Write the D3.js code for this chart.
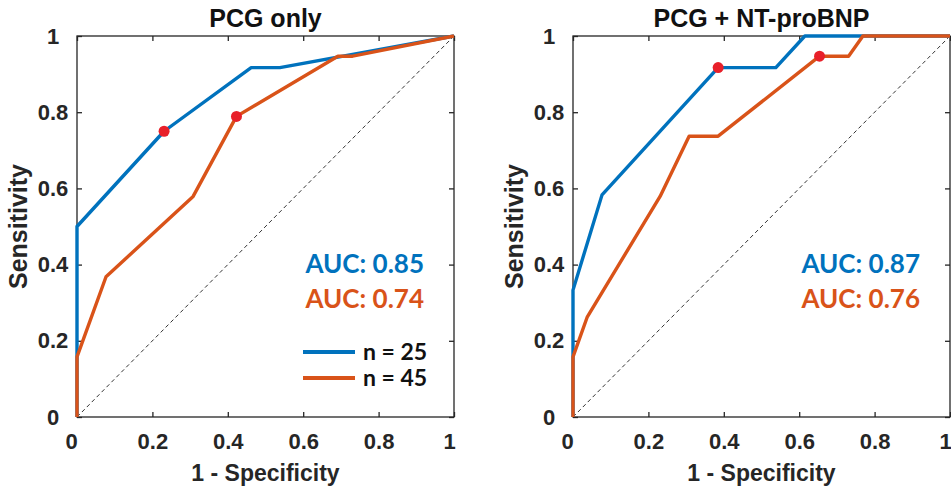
<!DOCTYPE html>
<html>
<head>
<meta charset="utf-8">
<script src="https://cdn.jsdelivr.net/npm/d3@7"></script>
<style>
  body { margin: 0; background: #fff; }
  svg { display: block; }
</style>
</head>
<body>
<div id="chart"></div>
<script>
// ROC points: [1 - specificity, sensitivity]
const pcgOnly25 = [[0, 0], [0, 0.5], [0.231, 0.75], [0.462, 0.917], [0.538, 0.917], [1, 1]];
const pcgOnly45 = [[0, 0], [0, 0.158], [0.077, 0.368], [0.308, 0.579], [0.423, 0.789],
                   [0.692, 0.947], [0.731, 0.947], [1, 1]];
const pcgBnp25 = [[0, 0], [0, 0.333], [0.077, 0.583], [0.385, 0.917], [0.538, 0.917],
                  [0.615, 1], [1, 1]];
const pcgBnp45 = [[0, 0], [0, 0.158], [0.038, 0.263], [0.231, 0.579], [0.308, 0.737],
                  [0.385, 0.737], [0.654, 0.947], [0.731, 0.947], [0.769, 1], [1, 1]];

// operating points (red dots)
const pcgOnlyCut = [[0.231, 0.75], [0.423, 0.789]];
const pcgBnpCut = [[0.385, 0.917], [0.654, 0.947]];

const panelTitles = ["PCG only", "PCG + NT-proBNP"];
const aucLabels = [["AUC: 0.85", "AUC: 0.74"], ["AUC: 0.87", "AUC: 0.76"]];
const legendLabels = ["n = 25", "n = 45"];
const tickValues = [0, 0.2, 0.4, 0.6, 0.8, 1];

const blue = "#0072BD";
const orange = "#D95319";
const red = "#E8202A";
const axisColor = "#262626";
const tickFont = "'Liberation Sans', Arial, sans-serif";
const aucFont = "Lato, 'Open Sans', sans-serif";

const svg = d3.select("#chart")
    .append("svg")
    .attr("width", 951)
    .attr("height", 491);

const tickFmt = d => (d === 0 || d === 1) ? d3.format("d")(d) : d3.format(".1f")(d);

const drawPanel = (left, curves, cuts, title, aucs, showLegend) => {
    const width = 377;
    const height = 381;
    const top = 36;

    const g = svg.append("g").attr("transform", `translate(${left},${top})`);

    const x = d3.scaleLinear().domain([0, 1]).range([0, width]);
    const y = d3.scaleLinear().domain([0, 1]).range([height, 0]);

    // chance line
    g.append("line")
        .attr("x1", x(0)).attr("y1", y(0))
        .attr("x2", x(1)).attr("y2", y(1))
        .attr("stroke", "#333")
        .attr("stroke-width", 1)
        .attr("stroke-dasharray", "4,3");

    // box with inward ticks on all sides
    g.append("rect")
        .attr("width", width).attr("height", height)
        .attr("fill", "none")
        .attr("stroke", axisColor)
        .attr("stroke-width", 1.3);

    const tickLen = 5;
    const xAxis = g.append("g")
        .attr("transform", `translate(0,${height})`)
        .call(d3.axisBottom(x).tickValues(tickValues).tickSize(-tickLen).tickPadding(16).tickFormat(tickFmt));
    g.append("g")
        .call(d3.axisTop(x).tickValues(tickValues).tickSize(-tickLen).tickFormat(""));
    const yAxis = g.append("g")
        .call(d3.axisLeft(y).tickValues(tickValues).tickSize(-tickLen).tickFormat(tickFmt));
    g.append("g")
        .attr("transform", `translate(${width},0)`)
        .call(d3.axisRight(y).tickValues(tickValues).tickSize(-tickLen).tickFormat(""));

    g.selectAll(".domain").remove();
    g.selectAll(".tick line").attr("stroke", axisColor).attr("stroke-width", 1.3);
    g.selectAll(".tick text")
        .attr("fill", "#262626")
        .style("font-family", tickFont)
        .style("font-size", "22px")
        .style("font-weight", "bold");

    // end labels sit a little inward, as in the figure
    xAxis.selectAll(".tick text")
        .attr("dx", d => d === 0 ? -6 : d === 1 ? -5 : 0);
    yAxis.selectAll(".tick text")
        .attr("text-anchor", "middle")
        .attr("x", -24);

    // curves
    const line = d3.line().x(d => x(d[0])).y(d => y(d[1]));
    const colors = [blue, orange];
    curves.forEach((c, i) => {
        g.append("path")
            .datum(c)
            .attr("d", line)
            .attr("fill", "none")
            .attr("stroke", colors[i])
            .attr("stroke-width", 3.4)
            .attr("stroke-linejoin", "round");
    });

    g.selectAll(".cut")
        .data(cuts)
        .join("circle")
        .attr("class", "cut")
        .attr("cx", d => x(d[0]))
        .attr("cy", d => y(d[1]))
        .attr("r", 5.5)
        .attr("fill", red);

    // title
    g.append("text")
        .attr("x", width / 2)
        .attr("y", -9)
        .attr("text-anchor", "middle")
        .style("font-family", tickFont)
        .style("font-size", "25px")
        .style("font-weight", "bold")
        .attr("fill", "#111")
        .text(title);

    // axis labels
    g.append("text")
        .attr("x", width / 2)
        .attr("y", height + 64)
        .attr("text-anchor", "middle")
        .style("font-family", tickFont)
        .style("font-size", "23px")
        .style("font-weight", "bold")
        .attr("fill", "#262626")
        .text("1 - Specificity");

    g.append("text")
        .attr("transform", "rotate(-90)")
        .attr("x", -height / 2)
        .attr("y", -50)
        .attr("text-anchor", "middle")
        .style("font-family", tickFont)
        .style("font-size", "25px")
        .style("font-weight", "bold")
        .attr("fill", "#262626")
        .text("Sensitivity");

    // AUC annotations
    aucs.forEach((t, i) => {
        g.append("text")
            .attr("x", width - 30)
            .attr("y", 237 + i * 35)
            .attr("text-anchor", "end")
            .style("font-family", aucFont)
            .style("font-size", "26px")
            .style("font-weight", "bold")
            .attr("fill", colors[i])
            .text(t);
    });

    if (showLegend) {
        legendLabels.forEach((t, i) => {
            const ly = 316 + i * 26;
            g.append("line")
                .attr("x1", 226).attr("x2", 278)
                .attr("y1", ly).attr("y2", ly)
                .attr("stroke", colors[i])
                .attr("stroke-width", 4);
            g.append("text")
                .attr("x", 286)
                .attr("y", ly + 8)
                .style("font-family", aucFont)
                .style("font-size", "23px")
                .style("font-weight", "bold")
                .attr("fill", "#111")
                .text(t);
        });
    }
};

drawPanel(77, [pcgOnly25, pcgOnly45], pcgOnlyCut, panelTitles[0], aucLabels[0], true);
drawPanel(573, [pcgBnp25, pcgBnp45], pcgBnpCut, panelTitles[1], aucLabels[1], false);
</script>
</body>
</html>
